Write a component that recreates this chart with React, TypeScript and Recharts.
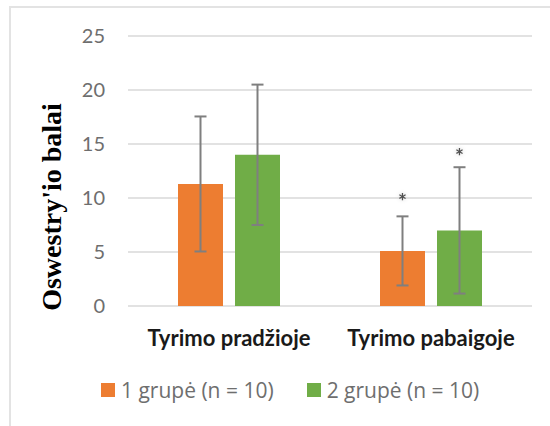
import {
  BarChart,
  Bar,
  XAxis,
  YAxis,
  CartesianGrid,
  ErrorBar,
  Legend,
  LabelList,
} from "recharts";

const categories = ["Tyrimo pradžioje", "Tyrimo pabaigoje"];
const seriesNames = ["1 grupė (n = 10)", "2 grupė (n = 10)"];
const group1Means = [11.3, 5.1];
const group1Sd = [6.25, 3.2];
const group2Means = [14.0, 7.0];
const group2Sd = [6.5, 5.85];
// where the significance asterisks sit (y value), null = none
const group1Star = [null, 9.8];
const group2Star = [null, 14.0];
const yTicks = [0, 5, 10, 15, 20, 25];

const colors = ["#ED7D31", "#70AD47"];
const gridColor = "#d9d9d9";
const tickColor = "#6e6e6e";

const data = categories.map((name, i) => ({
  name,
  g1: group1Means[i],
  g1sd: group1Sd[i],
  g1star: group1Star[i],
  g2: group2Means[i],
  g2sd: group2Sd[i],
  g2star: group2Star[i],
}));

const makeStar = (meanKey: "g1" | "g2") => (props: any) => {
  const { x, y, width, height, value, index } = props;
  if (value == null) return null;
  const mean = data[index][meanKey];
  const perUnit = height / mean;
  const cy = y + height - value * perUnit;
  return (
    <text
      x={x + width / 2}
      y={cy}
      dy={9}
      textAnchor="middle"
      fontFamily="Lato"
      fontSize={21}
      fontWeight={700}
      fill="#505050"
      style={{ filter: "drop-shadow(0 0 2px #d0d0d0)" }}
    >
      *
    </text>
  );
};

const CategoryTick = (props: any) => {
  const { x, y, payload } = props;
  return (
    <text
      x={x}
      y={y + 38}
      textAnchor="middle"
      fontFamily="Lato"
      fontWeight={700}
      fontSize={22}
      fill="#1a1a1a"
    >
      {payload.value}
    </text>
  );
};

const LegendContent = () => (
  <div
    style={{
      display: "flex",
      alignItems: "center",
      paddingLeft: 101,
      gap: 33,
      fontFamily: "Open Sans",
      fontSize: 21,
      color: tickColor,
    }}
  >
    {seriesNames.map((n, i) => (
      <div key={n} style={{ display: "flex", alignItems: "center" }}>
        <span
          style={{
            width: 14,
            height: 14,
            background: colors[i],
            display: "inline-block",
            marginRight: 6,
          }}
        />
        <span>{n}</span>
      </div>
    ))}
  </div>
);

export default function App() {
  return (
    <div
      style={{
        position: "absolute",
        left: 0,
        top: 0,
        width: 550,
        height: 426,
        background: "#fff",
      }}
    >
      <div
        style={{
          position: "absolute",
          left: 9,
          top: 6,
          right: 0,
          bottom: 0,
          borderLeft: "2px solid #e3e3e3",
          borderTop: "2px solid #e3e3e3",
        }}
      />
      <BarChart
        width={550}
        height={426}
        data={data}
        margin={{ top: 36, right: 18, left: 0, bottom: 60 }}
        barSize={45}
        barGap={12}
      >
        <CartesianGrid
          vertical={false}
          stroke={gridColor}
          strokeWidth={1.5}
        />
        <XAxis
          dataKey="name"
          axisLine={false}
          tickLine={false}
          tickSize={0}
          height={60}
          tick={<CategoryTick />}
        />
        <YAxis
          domain={[0, 25]}
          ticks={yTicks}
          width={128}
          axisLine={false}
          tickLine={false}
          tickSize={0}
          tickMargin={23}
          tick={{ fill: tickColor, fontSize: 20, fontFamily: "Lato" }}
          label={{
            content: () => (
              <text
                transform="translate(61,207) rotate(-90)"
                textAnchor="middle"
                fontFamily="Liberation Serif"
                fontWeight={700}
                fontSize={28}
                fill="#000"
              >
                Oswestry'io balai
              </text>
            ),
          }}
        />
        <Legend
          layout="horizontal"
          verticalAlign="middle"
          align="center"
          wrapperStyle={{ top: 376, left: 0, width: 550 }}
          content={<LegendContent />}
        />
        <Bar dataKey="g1" name={seriesNames[0]} fill={colors[0]} isAnimationActive={false}>
          <ErrorBar dataKey="g1sd" width={6} stroke="#7f7f7f" strokeWidth={2} />
          <LabelList dataKey="g1star" content={makeStar("g1")} />
        </Bar>
        <Bar dataKey="g2" name={seriesNames[1]} fill={colors[1]} isAnimationActive={false}>
          <ErrorBar dataKey="g2sd" width={6} stroke="#7f7f7f" strokeWidth={2} />
          <LabelList dataKey="g2star" content={makeStar("g2")} />
        </Bar>
      </BarChart>
    </div>
  );
}
